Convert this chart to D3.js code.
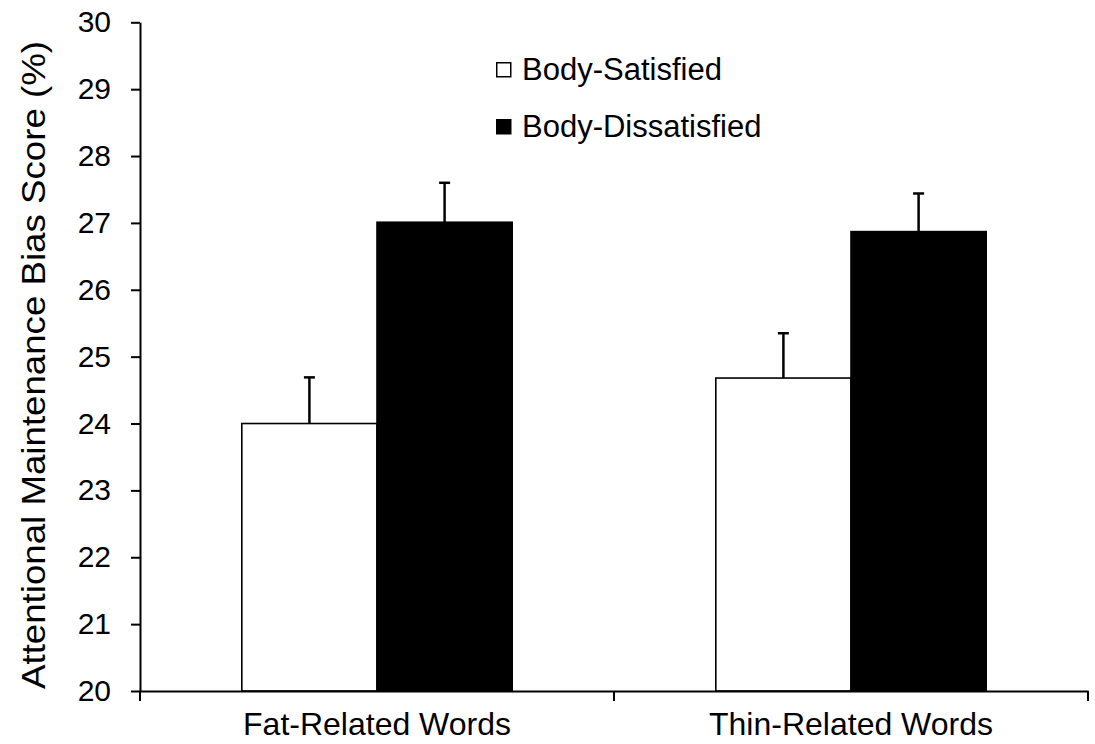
<!DOCTYPE html>
<html>
<head>
<meta charset="utf-8">
<script src="https://cdn.jsdelivr.net/npm/d3@7/dist/d3.min.js"></script>
<style>
  body { margin: 0; background: #fff; }
  svg { display: block; font-family: "Liberation Sans", Arial, sans-serif; }
</style>
</head>
<body>
<div id="chart"></div>
<script>
const categories = ['Fat-Related Words', 'Thin-Related Words'];
const series = ['Body-Satisfied', 'Body-Dissatisfied'];
const seriesFill = ['#ffffff', '#000000'];
const satisfied = [24.0, 24.68];
const dissatisfied = [27.01, 26.87];
const satisfiedErr = [0.69, 0.67];
const dissatisfiedErr = [0.59, 0.57];
const yTicks = [20, 21, 22, 23, 24, 25, 26, 27, 28, 29, 30];

const width = 1095, height = 744;
const mLeft = 140, mRight = 1088, mTop = 22.3, mBottom = 691;

// rows built from the arrays above
const rows = [];
categories.forEach((c, i) => {
  rows.push({ cat: c, s: series[0], v: satisfied[i], e: satisfiedErr[i] });
  rows.push({ cat: c, s: series[1], v: dissatisfied[i], e: dissatisfiedErr[i] });
});

const svg = d3.select('#chart').append('svg')
  .attr('width', width)
  .attr('height', height);

const x = d3.scaleBand().domain(categories).range([mLeft, mRight]).padding(0);
const xs = d3.scaleBand().domain(series).range([0, x.bandwidth()])
  .paddingInner(0).paddingOuter(0.753);
const y = d3.scaleLinear().domain([20, 30]).range([mBottom, mTop]);
const fill = d3.scaleOrdinal().domain(series).range(seriesFill);

// bars
svg.append('g').selectAll('rect')
  .data(rows).enter().append('rect')
  .attr('x', d => x(d.cat) + xs(d.s))
  .attr('y', d => y(d.v))
  .attr('width', xs.bandwidth())
  .attr('height', d => y(20) - y(d.v))
  .attr('fill', d => fill(d.s))
  .attr('stroke', '#000')
  .attr('stroke-width', 1.6);

// error bars (upper only)
const err = svg.append('g').attr('stroke', '#000').attr('stroke-width', 2.5);
err.selectAll('line.v')
  .data(rows).enter().append('line')
  .attr('class', 'v')
  .attr('x1', d => x(d.cat) + xs(d.s) + xs.bandwidth() / 2)
  .attr('x2', d => x(d.cat) + xs(d.s) + xs.bandwidth() / 2)
  .attr('y1', d => y(d.v))
  .attr('y2', d => y(d.v + d.e));
err.selectAll('line.c')
  .data(rows).enter().append('line')
  .attr('class', 'c')
  .attr('x1', d => x(d.cat) + xs(d.s) + xs.bandwidth() / 2 - 5.5)
  .attr('x2', d => x(d.cat) + xs(d.s) + xs.bandwidth() / 2 + 5.5)
  .attr('y1', d => y(d.v + d.e))
  .attr('y2', d => y(d.v + d.e));

// y axis
const yAxis = svg.append('g')
  .attr('transform', `translate(${mLeft},0)`)
  .call(d3.axisLeft(y).tickValues(yTicks).tickSize(9).tickPadding(20).tickSizeOuter(0));
yAxis.select('.domain').attr('stroke-width', 2);
yAxis.selectAll('.tick line').attr('stroke-width', 2);
yAxis.selectAll('.tick text')
  .attr('font-family', '"Liberation Sans", Arial, sans-serif')
  .attr('font-size', 30)
  .attr('fill', '#000');

// x axis: line, boundary ticks, category labels
const xAxis = svg.append('g')
  .attr('transform', `translate(0,${mBottom})`)
  .call(d3.axisBottom(x).tickSize(0).tickPadding(21).tickSizeOuter(0));
xAxis.select('.domain').attr('stroke-width', 2);
xAxis.selectAll('.tick text')
  .attr('font-family', '"Liberation Sans", Arial, sans-serif')
  .attr('font-size', 32)
  .attr('fill', '#000');

const bounds = [x.range()[0]].concat(categories.map(c => x(c) + x.step()));
xAxis.selectAll('line.bound')
  .data(bounds).enter().append('line')
  .attr('class', 'bound')
  .attr('x1', d => d).attr('x2', d => d)
  .attr('y1', 0).attr('y2', 10)
  .attr('stroke', '#000').attr('stroke-width', 2);

// y axis title
svg.append('text')
  .attr('transform', 'translate(45,365) rotate(-90)')
  .attr('text-anchor', 'middle')
  .attr('font-size', 34)
  .attr('textLength', 648)
  .attr('lengthAdjust', 'spacingAndGlyphs')
  .text('Attentional Maintenance Bias Score (%)');

// legend
const legend = svg.append('g').attr('transform', 'translate(496,62)');
const item = legend.selectAll('g')
  .data(series).enter().append('g')
  .attr('transform', (d, i) => `translate(0,${i * 57})`);
item.append('rect')
  .attr('x', 0.75).attr('y', 0.75)
  .attr('width', 14).attr('height', 14)
  .attr('fill', d => fill(d))
  .attr('stroke', '#000')
  .attr('stroke-width', 1.5);
item.append('text')
  .attr('x', 26)
  .attr('y', 17.5)
  .attr('font-size', 31)
  .text(d => d);
</script>
</body>
</html>
